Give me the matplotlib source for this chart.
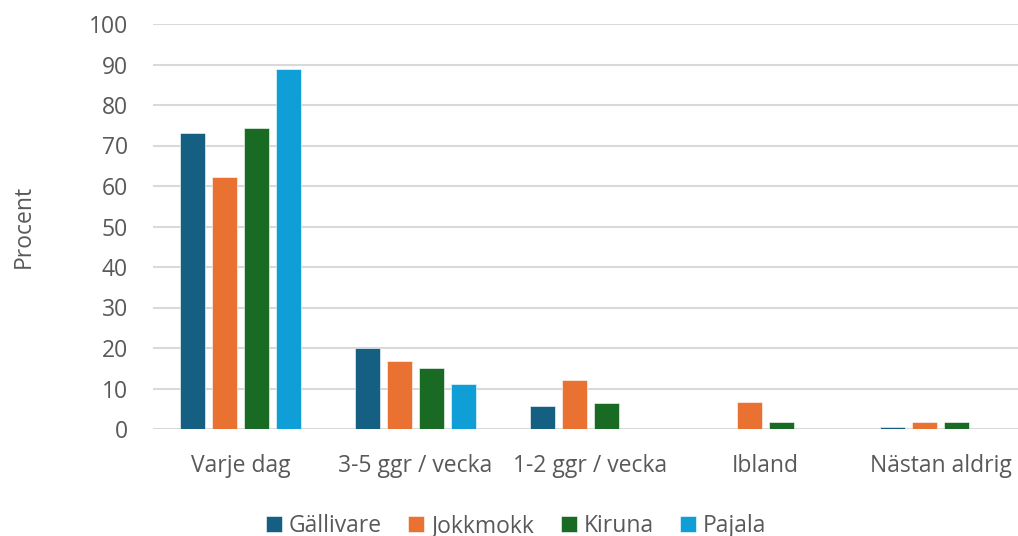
import numpy as np
import matplotlib.pyplot as plt

categories = ["Varje dag", "3-5 ggr / vecka", "1-2 ggr / vecka", "Ibland", "Nästan aldrig"]
gallivare = [73.0, 19.9, 5.7, 0.0, 0.6]
jokkmokk = [62.1, 16.9, 12.1, 6.7, 1.7]
kiruna = [74.4, 15.0, 6.4, 1.7, 1.7]
pajala = [88.8, 11.2, 0.0, 0.0, 0.0]

series = {
    "Gällivare": (gallivare, "#156082"),
    "Jokkmokk": (jokkmokk, "#E97132"),
    "Kiruna": (kiruna, "#196B24"),
    "Pajala": (pajala, "#0F9ED5"),
}

plt.rcParams["font.family"] = ["Open Sans", "DejaVu Sans"]
grey = "#595959"
fs = 16.5

fig = plt.figure(figsize=(10.18, 5.36), dpi=100)
ax = fig.add_axes([153 / 1018, 107 / 536, 865 / 1018, 405 / 536])

x = np.arange(len(categories))
pitch = 0.183
width = 0.143
for i, (name, (vals, col)) in enumerate(series.items()):
    ax.bar(x + (i - 1.5) * pitch, vals, width, color=col, label=name,
           edgecolor="white", linewidth=0.4, zorder=3)

ax.set_ylim(0, 100)
ax.set_yticks(range(0, 101, 10))
ax.set_xlim(-0.5, -0.5 + 865 / 175)
ax.set_xticks(x)
ax.set_xticklabels(categories)
ax.grid(axis="y", color="#d9d9d9", linewidth=1.5, zorder=0)
for s in ax.spines.values():
    s.set_visible(False)
ax.tick_params(axis="both", length=0, labelsize=fs, colors=grey)
ax.tick_params(axis="y", pad=18)
ax.tick_params(axis="x", pad=18)
ax.set_ylabel("Procent", fontsize=fs, color=grey)
ax.yaxis.set_label_coords(-0.136, 0.5)

fig.legend(loc="lower center", bbox_to_anchor=(0.507, -0.042), ncol=4, frameon=False,
           fontsize=fs, labelcolor=grey, handlelength=0.7, handleheight=0.7,
           handletextpad=0.3, columnspacing=1.15)

fig.savefig("out.png", dpi=100)
